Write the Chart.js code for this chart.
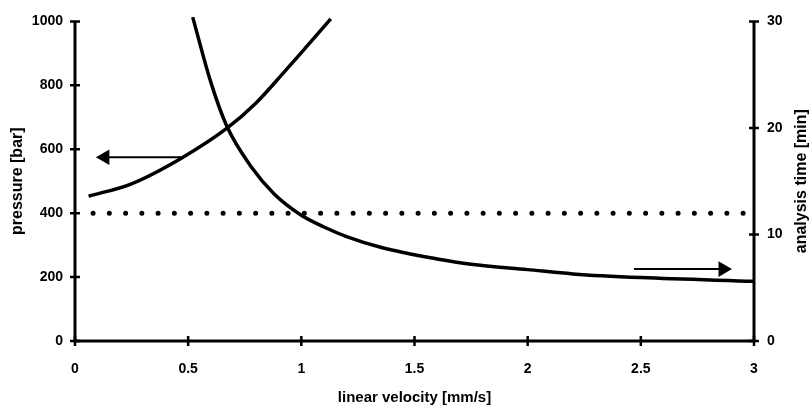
<!DOCTYPE html>
<html>
<head>
<meta charset="utf-8">
<script src="https://cdn.jsdelivr.net/npm/chart.js@4.4.1/dist/chart.umd.min.js"></script>
<style>
    html, body { margin: 0; padding: 0; background: #fff; }
    #wrap { width: 810px; height: 407px; }
</style>
</head>
<body>
<div id="wrap"><canvas id="chart" width="810" height="407"></canvas></div>
<script>
// Column pressure vs. linear velocity (left axis)
const pressureVelocity = [0.06, 0.25, 0.47, 0.67, 0.8, 0.92, 1.0, 1.13];
const pressureBar      = [453, 492, 572, 665, 745, 838, 902, 1008];

// Analysis time vs. linear velocity (right axis)
const timeVelocity = [0.52, 0.6, 0.67, 0.78, 0.88, 1.0, 1.1, 1.2, 1.35, 1.6, 1.75, 2.0, 2.2, 2.5, 3.0];
const analysisMin  = [30.4, 24.3, 20.2, 16.3, 13.8, 11.8, 10.7, 9.8, 8.8, 7.7, 7.2, 6.7, 6.3, 5.95, 5.6];

// Pressure limit of the system
const pressureLimit = 400;
const limitRange    = [0.08, 2.96];

// Arrows pointing each curve to its axis: [tail, head]
const pressureArrow = [{ x: 0.47, y: 575 }, { x: 0.132, y: 575 }];
const timeArrow     = [{ x: 2.47, y: 6.75 }, { x: 2.863, y: 6.75 }];

// Tick labels
const velocityTicks = [0, 0.5, 1, 1.5, 2, 2.5, 3];
const pressureTicks = [0, 200, 400, 600, 800, 1000];
const timeTicks     = [0, 10, 20, 30];

const FONT = '"Liberation Sans", Arial, sans-serif';

const toPoints = (xs, ys) => xs.map((x, i) => ({ x, y: ys[i] }));

// Axis lines with ticks crossing them, plus the right title read bottom to top
const crossAxes = {
    id: "crossAxes",
    afterDatasetsDraw(chart) {
        const { ctx, chartArea: a, scales } = chart;
        ctx.save();
        ctx.strokeStyle = "#000";
        ctx.lineWidth = 3;
        ctx.beginPath();
        ctx.moveTo(a.left, scales.y.getPixelForValue(1000));
        ctx.lineTo(a.left, a.bottom);
        ctx.lineTo(a.right, a.bottom);
        ctx.moveTo(a.right, scales.y2.getPixelForValue(30));
        ctx.lineTo(a.right, a.bottom);
        ctx.stroke();

        ctx.lineWidth = 2.5;
        ctx.beginPath();
        pressureTicks.forEach(v => {
            const py = scales.y.getPixelForValue(v);
            ctx.moveTo(a.left - 5, py); ctx.lineTo(a.left + 5, py);
        });
        timeTicks.forEach(v => {
            const py = scales.y2.getPixelForValue(v);
            ctx.moveTo(a.right - 5, py); ctx.lineTo(a.right + 5, py);
        });
        velocityTicks.forEach(v => {
            const px = scales.x.getPixelForValue(v);
            ctx.moveTo(px, a.bottom - 5); ctx.lineTo(px, a.bottom + 5);
        });
        ctx.stroke();

        ctx.translate(802, (a.top + a.bottom) / 2);
        ctx.rotate(-Math.PI / 2);
        ctx.font = "bold 16px " + FONT;
        ctx.fillStyle = "#000";
        ctx.textAlign = "center";
        ctx.textBaseline = "middle";
        ctx.fillText("analysis time [min]", 0, 0);
        ctx.restore();
    }
};

const tickFont = { family: FONT, size: 14, weight: "bold" };
const plainLabel = v => String(v);

new Chart(document.getElementById("chart"), {
    type: "line",
    data: {
        datasets: [
            {
                label: "pressure",
                data: toPoints(pressureVelocity, pressureBar),
                yAxisID: "y",
                borderColor: "#000",
                borderWidth: 3.5,
                cubicInterpolationMode: "monotone",
                pointRadius: 0,
                clip: false
            },
            {
                label: "analysis time",
                data: toPoints(timeVelocity, analysisMin),
                yAxisID: "y2",
                borderColor: "#000",
                borderWidth: 3.5,
                cubicInterpolationMode: "monotone",
                pointRadius: 0,
                clip: false
            },
            {
                label: "pressure limit",
                data: limitRange.map(x => ({ x, y: pressureLimit })),
                yAxisID: "y",
                borderColor: "#000",
                borderWidth: 5,
                borderDash: [0, 16.25],
                borderCapStyle: "round",
                pointRadius: 0
            },
            {
                label: "pressure arrow",
                data: pressureArrow,
                yAxisID: "y",
                borderColor: "#000",
                borderWidth: 2,
                pointStyle: "triangle",
                pointRadius: [0, 9],
                pointRotation: [0, -90],
                pointBackgroundColor: "#000",
                pointBorderWidth: 0
            },
            {
                label: "time arrow",
                data: timeArrow,
                yAxisID: "y2",
                borderColor: "#000",
                borderWidth: 2,
                pointStyle: "triangle",
                pointRadius: [0, 9],
                pointRotation: [0, 90],
                pointBackgroundColor: "#000",
                pointBorderWidth: 0
            }
        ]
    },
    options: {
        responsive: false,
        animation: false,
        layout: { padding: { top: 19 } },
        plugins: { legend: { display: false }, tooltip: { enabled: false } },
        scales: {
            x: {
                type: "linear",
                min: 0,
                max: 3,
                afterBuildTicks: s => { s.ticks = velocityTicks.map(value => ({ value })); },
                afterFit: s => { s.height = 66; },
                grid: { display: false, drawTicks: false },
                border: { display: false },
                ticks: { color: "#000", font: tickFont, padding: 20, callback: plainLabel },
                title: {
                    display: true,
                    text: "linear velocity [mm/s]",
                    color: "#000",
                    font: { family: FONT, size: 15, weight: "bold" },
                    padding: 0
                }
            },
            y: {
                position: "left",
                min: 0,
                max: 1000,
                afterBuildTicks: s => { s.ticks = pressureTicks.map(value => ({ value })); },
                afterFit: s => { s.width = 75; },
                grid: { display: false, drawTicks: false },
                border: { display: false },
                ticks: { color: "#000", font: tickFont, padding: 12, callback: plainLabel },
                title: {
                    display: true,
                    text: "pressure [bar]",
                    color: "#000",
                    font: { family: FONT, size: 16, weight: "bold" },
                    padding: { top: 8, bottom: 0 }
                }
            },
            y2: {
                position: "right",
                min: 0,
                max: 30,
                afterBuildTicks: s => { s.ticks = timeTicks.map(value => ({ value })); },
                afterFit: s => { s.width = 56; },
                grid: { display: false, drawTicks: false },
                border: { display: false },
                ticks: { color: "#000", font: tickFont, padding: 13, callback: plainLabel }
            }
        }
    },
    plugins: [crossAxes]
});
</script>
</body>
</html>
